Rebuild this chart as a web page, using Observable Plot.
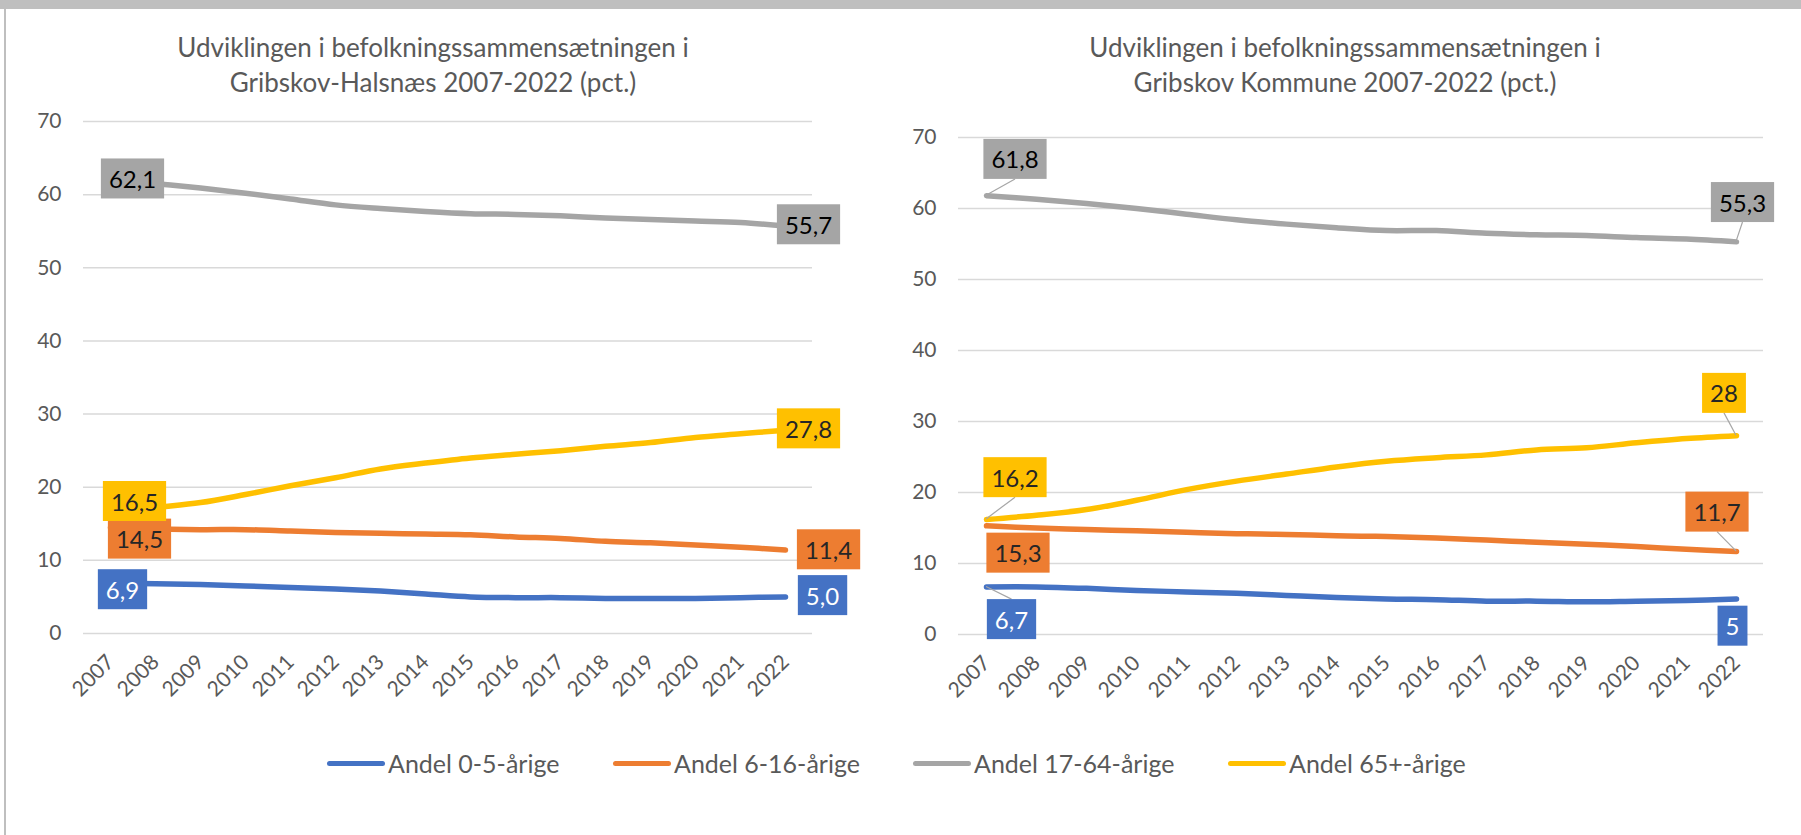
<!DOCTYPE html>
<html>
<head>
<meta charset="utf-8">
<script src="https://cdn.jsdelivr.net/npm/d3@7"></script>
<script src="https://cdn.jsdelivr.net/npm/@observablehq/plot@0.6"></script>
<style>
  html, body { margin: 0; padding: 0; background: #fff; }
  body { width: 1801px; height: 835px; position: relative; overflow: hidden; font-family: Lato, "Open Sans", sans-serif; }
  #band { position: absolute; left: 0; top: 0; width: 1801px; height: 9px; background: #bfbfbf; }
  #border { position: absolute; left: 4px; top: 9px; width: 2px; height: 826px; background: #bfbfbf; }
  .title { position: absolute; top: 30px; width: 640px; text-align: center; color: #595959; font-size: 26px; line-height: 35px; white-space: nowrap; }
  .chart { position: absolute; top: 100px; }
  .chart svg { overflow: visible; }
  .legend-item { position: absolute; top: 748px; height: 30px; display: flex; align-items: center; color: #595959; font-size: 25px; white-space: nowrap; }
  .legend-swatch { width: 58px; height: 5px; border-radius: 3px; margin-right: 3px; }
</style>
</head>
<body>
<div id="band"></div>
<div id="border"></div>
<div class="title" id="title-left" style="left:113px"></div>
<div class="title" id="title-right" style="left:1025px"></div>
<div class="chart" id="chart-left" style="left:0px"></div>
<div class="chart" id="chart-right" style="left:880px"></div>
<div id="legend"></div>
<script>
// ---------- data ----------
const years = [2007, 2008, 2009, 2010, 2011, 2012, 2013, 2014, 2015, 2016, 2017, 2018, 2019, 2020, 2021, 2022];
const seriesNames = ["Andel 0-5-årige", "Andel 6-16-årige", "Andel 17-64-årige", "Andel 65+-årige"];
const seriesColors = ["#4472C4", "#ED7D31", "#A5A5A5", "#FFC000"];
const yTicks = [0, 10, 20, 30, 40, 50, 60, 70];

const titleLeft = ["Udviklingen i befolkningssammensætningen i", "Gribskov-Halsnæs 2007-2022 (pct.)"];
const titleRight = ["Udviklingen i befolkningssammensætningen i", "Gribskov Kommune 2007-2022 (pct.)"];

// Gribskov-Halsnæs
const halsnaes_0_5   = [6.9, 6.8, 6.7, 6.5, 6.3, 6.1, 5.8, 5.4, 5.0, 4.9, 4.9, 4.8, 4.8, 4.8, 4.9, 5.0];
const halsnaes_6_16  = [14.5, 14.3, 14.2, 14.2, 14.0, 13.8, 13.7, 13.6, 13.5, 13.2, 13.0, 12.6, 12.4, 12.1, 11.8, 11.4];
const halsnaes_17_64 = [62.1, 61.5, 60.9, 60.2, 59.4, 58.6, 58.1, 57.7, 57.4, 57.3, 57.1, 56.8, 56.6, 56.4, 56.2, 55.7];
const halsnaes_65    = [16.5, 17.2, 17.9, 19.0, 20.2, 21.3, 22.5, 23.3, 24.0, 24.5, 25.0, 25.6, 26.1, 26.8, 27.3, 27.8];
const halsnaesFirstLabels = ["6,9", "14,5", "62,1", "16,5"];
const halsnaesLastLabels  = ["5,0", "11,4", "55,7", "27,8"];

// Gribskov Kommune
const gribskov_0_5   = [6.7, 6.7, 6.5, 6.2, 6.0, 5.8, 5.5, 5.2, 5.0, 4.9, 4.7, 4.7, 4.6, 4.7, 4.8, 5.0];
const gribskov_6_16  = [15.3, 15.0, 14.8, 14.6, 14.4, 14.2, 14.1, 13.9, 13.8, 13.6, 13.3, 13.0, 12.7, 12.4, 12.0, 11.7];
const gribskov_17_64 = [61.8, 61.3, 60.7, 60.0, 59.2, 58.4, 57.8, 57.3, 56.9, 56.9, 56.5, 56.3, 56.2, 55.9, 55.7, 55.3];
const gribskov_65    = [16.2, 16.8, 17.6, 18.9, 20.4, 21.6, 22.6, 23.6, 24.4, 24.9, 25.3, 26.0, 26.3, 27.0, 27.6, 28.0];
const gribskovFirstLabels = ["6,7", "15,3", "61,8", "16,2"];
const gribskovLastLabels  = ["5", "11,7", "55,3", "28"];

// ---------- layout (label offsets in px, per series: blue, orange, grey, yellow) ----------
const layoutLeft = {
  width: 880, height: 640, marginTop: 21, marginBottom: 107, marginLeft: 83, marginRight: 68,
  firstOffsets: [[12, 8], [29, 13], [22, 1], [24, -10]],
  lastOffsets:  [[37, 0], [43, 1], [23, 0], [23, 0]],
  firstLeader: [false, false, false, false],
  lastLeader:  [false, false, false, false]
};
const layoutRight = {
  width: 921, height: 640, marginTop: 37, marginBottom: 106, marginLeft: 78, marginRight: 38,
  firstOffsets: [[25, 34], [31.5, 28.6], [28.5, -35], [28.5, -40.5]],
  lastOffsets:  [[-4, 28.5], [-19.5, -38], [6, -38], [-12.5, -41]],
  firstLeader: [true, false, true, true],
  lastLeader:  [false, true, true, true]
};
const labelTextColors = ["#ffffff", "#262626", "#000000", "#262626"];

// ---------- titles & legend ----------
document.getElementById("title-left").innerHTML = titleLeft.join("<br>");
document.getElementById("title-right").innerHTML = titleRight.join("<br>");
const legendLefts = [327, 613, 913, 1228];
const legend = document.getElementById("legend");
seriesNames.forEach((name, k) => {
  const item = document.createElement("div");
  item.className = "legend-item";
  item.style.left = legendLefts[k] + "px";
  const sw = document.createElement("div");
  sw.className = "legend-swatch";
  sw.style.background = seriesColors[k];
  const tx = document.createElement("span");
  tx.textContent = name;
  item.appendChild(sw); item.appendChild(tx);
  legend.appendChild(item);
});

// ---------- charts ----------
function makeChart(containerId, seriesValues, firstLabels, lastLabels, lay) {
  const rows = [];
  seriesNames.forEach((s, k) => seriesValues[k].forEach((v, i) => rows.push({year: years[i], series: s, value: v})));

  const labels = [];
  seriesNames.forEach((s, k) => {
    const n = years.length - 1;
    labels.push({year: years[0], value: seriesValues[k][0], text: firstLabels[k], k, off: lay.firstOffsets[k], leader: lay.firstLeader[k]});
    labels.push({year: years[n], value: seriesValues[k][n], text: lastLabels[k], k, off: lay.lastOffsets[k], leader: lay.lastLeader[k]});
  });

  const marks = [
    Plot.ruleY(yTicks, {stroke: "#d9d9d9", strokeWidth: 1.5}),
    Plot.line(rows, {x: "year", y: "value", z: "series", stroke: "series", strokeWidth: 5.5, curve: "catmull-rom", strokeLinecap: "round"})
  ];
  labels.forEach(l => {
    marks.push(Plot.text([l], {
      x: "year", y: "value", text: "text",
      dx: l.off[0], dy: l.off[1],
      fill: labelTextColors[l.k], fontSize: 24, textAnchor: "middle"
    }));
  });

  const plot = Plot.plot({
    width: lay.width, height: lay.height,
    marginTop: lay.marginTop, marginBottom: lay.marginBottom, marginLeft: lay.marginLeft, marginRight: lay.marginRight,
    style: {fontFamily: "Lato, 'Open Sans', sans-serif", fontSize: "21px", color: "#595959", background: "transparent", overflow: "visible"},
    x: {type: "point", domain: years, padding: 0.5, label: null, tickSize: 0, tickPadding: 25, tickRotate: -45, tickFormat: d => String(d)},
    y: {domain: [0, 70], ticks: yTicks, label: null, tickSize: 0, tickPadding: 22},
    color: {domain: seriesNames, range: seriesColors},
    marks
  });
  const container = document.getElementById(containerId);
  container.appendChild(plot);

  // boxes behind data labels + leader lines
  const svg = plot.tagName.toLowerCase() === "svg" ? plot : plot.querySelector("svg");
  const svgRect = svg.getBoundingClientRect();
  const textGroups = Array.from(svg.querySelectorAll('g[aria-label="text"]'));
  const ns = "http://www.w3.org/2000/svg";
  const deco = document.createElementNS(ns, "g");
  const xs = plot.scale("x"), ys = plot.scale("y");
  textGroups.forEach((g, i) => {
    const l = labels[i];
    const t = g.querySelector("text");
    if (!t || !l) return;
    const r = t.getBoundingClientRect();
    const padX = 8, h = 40;
    const bx = r.left - svgRect.left - padX;
    const bw = r.width + 2 * padX;
    const cy = r.top - svgRect.top + r.height / 2;
    const by = cy - h / 2;
    if (l.leader) {
      const px = xs.apply(l.year), py = ys.apply(l.value);
      const ex = bx + bw / 2;
      const ey = py < by ? by : by + h;
      const line = document.createElementNS(ns, "line");
      line.setAttribute("x1", px); line.setAttribute("y1", py);
      line.setAttribute("x2", ex); line.setAttribute("y2", ey);
      line.setAttribute("stroke", "#a6a6a6"); line.setAttribute("stroke-width", "1.2");
      deco.appendChild(line);
    }
    const rect = document.createElementNS(ns, "rect");
    rect.setAttribute("x", bx); rect.setAttribute("y", by);
    rect.setAttribute("width", bw); rect.setAttribute("height", h);
    rect.setAttribute("fill", seriesColors[l.k]);
    deco.appendChild(rect);
  });
  if (textGroups.length) textGroups[0].parentNode.insertBefore(deco, textGroups[0]);
}

makeChart("chart-left", [halsnaes_0_5, halsnaes_6_16, halsnaes_17_64, halsnaes_65], halsnaesFirstLabels, halsnaesLastLabels, layoutLeft);
makeChart("chart-right", [gribskov_0_5, gribskov_6_16, gribskov_17_64, gribskov_65], gribskovFirstLabels, gribskovLastLabels, layoutRight);
</script>
</body>
</html>
